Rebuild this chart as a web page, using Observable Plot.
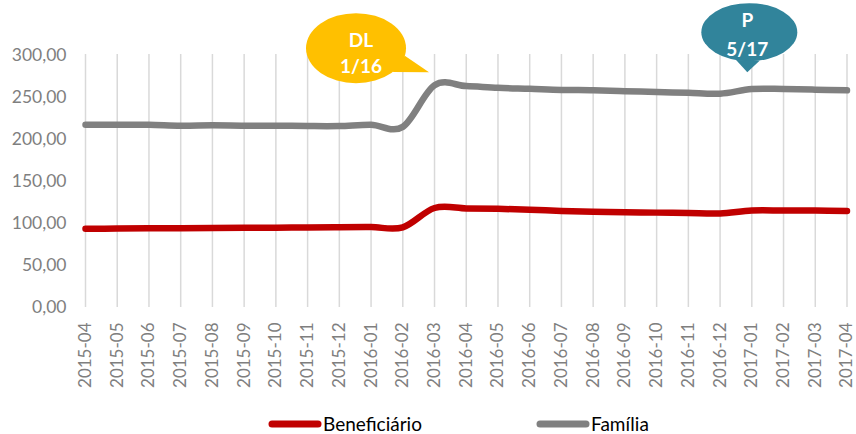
<!DOCTYPE html>
<html>
<head>
<meta charset="utf-8">
<script src="https://cdn.jsdelivr.net/npm/d3@7"></script>
<script src="https://cdn.jsdelivr.net/npm/@observablehq/plot@0.6"></script>
<style>
  html, body { margin: 0; padding: 0; background: #fff; overflow: hidden; }
  #wrap { position: relative; width: 856px; height: 434px; font-family: Lato, "Noto Sans", sans-serif; }
  #legend { position: absolute; left: 0; top: 400px; width: 856px; height: 34px; }
  .item { position: absolute; top: 15px; height: 18px; line-height: 18px; display: flex; align-items: center; font-size: 19px; color: #000; }
  .item svg { display: block; margin-right: 1px; }
</style>
</head>
<body>
<div id="wrap">
  <div id="chart"></div>
  <div id="legend"></div>
</div>
<script>
const months = ["2015-04","2015-05","2015-06","2015-07","2015-08","2015-09","2015-10","2015-11","2015-12",
  "2016-01","2016-02","2016-03","2016-04","2016-05","2016-06","2016-07","2016-08","2016-09","2016-10",
  "2016-11","2016-12","2017-01","2017-02","2017-03","2017-04"];
const beneficiario = [93.3, 93.5, 93.8, 94, 94.2, 94.4, 94.6, 94.8, 95, 95.3, 95, 118, 117.5, 117, 116, 114.5,
  113.5, 113, 112.5, 112, 111.5, 115, 115, 115, 114.5];
const familia = [217, 217, 217, 215.8, 216.3, 215.9, 215.9, 215.5, 215.5, 217, 214.5, 264, 263, 261, 259.8, 258.5,
  258, 257, 256, 255, 254, 259.5, 259.5, 258.8, 258];
const yTicks = [0, 50, 100, 150, 200, 250, 300];
const seriesNames = ["Beneficiário", "Família"];
const seriesColors = ["#c00000", "#808080"];
const callouts = [
  {month: "2016-03", value: 279, lines: ["DL", "1/16"], color: "#ffc000"},
  {month: "2017-01", value: 279, lines: ["P", "5/17"], color: "#31849b"}
];

const table = [];
months.forEach((m, i) => {
  table.push({month: m, value: beneficiario[i], series: seriesNames[0]});
  table.push({month: m, value: familia[i], series: seriesNames[1]});
});
const fmt = d => d3.format(".2f")(d).replace(".", ",");

const chart = Plot.plot({
  width: 856,
  height: 400,
  marginLeft: 85,
  marginRight: 9,
  marginTop: 54,
  marginBottom: 93,
  style: {fontFamily: "Lato, 'Noto Sans', sans-serif", background: "#fff"},
  x: {type: "point", domain: months, padding: 0, round: false, range: [85, 846.5]},
  y: {domain: [0, 300], range: [306.7, 54.5]},
  color: {domain: seriesNames, range: seriesColors},
  marks: [
    Plot.ruleX(months, {x: d => d, stroke: "#d9d9d9", strokeWidth: 1.5}),
    Plot.axisY({ticks: yTicks, tickSize: 0, tickPadding: 19, tickFormat: fmt, fontSize: 17.5, fill: "#7f7f7f", label: null}),
    Plot.axisX({tickSize: 0, tickPadding: 15, tickRotate: -90, fontSize: 17, fill: "#7f7f7f", label: null}),
    Plot.line(table, {x: "month", y: "value", z: "series", stroke: "series", strokeWidth: 6.5,
      curve: "cardinal", tension: 0, strokeLinecap: "round", strokeLinejoin: "round"})
  ]
});
document.getElementById("chart").appendChild(chart);

// callouts positioned with the chart's scales
const sx = chart.scale("x"), sy = chart.scale("y");
const svg = d3.select(chart);
const g = svg.append("g");
callouts.forEach((c, k) => {
  const tx = sx.apply(c.month) - (k === 0 ? 5 : 4);
  const ty = sy.apply(c.value);
  let cx, cy, rx, ry, a1, a2;
  if (k === 0) { cx = tx - 73; cy = ty - 24; rx = 50; ry = 35; a1 = 0.22; a2 = 0.75; }
  else { cx = tx + 2; cy = ty - 40; rx = 48; ry = 29; a1 = 1.35; a2 = 1.85; }
  const p1 = [cx + rx * Math.cos(a1), cy + ry * Math.sin(a1)];
  const p2 = [cx + rx * Math.cos(a2), cy + ry * Math.sin(a2)];
  g.append("ellipse").attr("cx", cx).attr("cy", cy).attr("rx", rx).attr("ry", ry).attr("fill", c.color);
  g.append("path").attr("d", `M${p1[0]},${p1[1]} L${tx},${ty} L${p2[0]},${p2[1]} Z`).attr("fill", c.color);
  const t = g.append("text").attr("text-anchor", "middle").attr("fill", "#fff")
    .attr("font-weight", "bold").attr("font-size", 19).attr("font-family", "Lato, sans-serif");
  t.append("tspan").attr("x", cx + (k === 0 ? 5 : -2)).attr("y", cy - 8 + (k === 0 ? 0 : -4)).attr("dy", "0.35em").text(c.lines[0]);
  t.append("tspan").attr("x", cx + (k === 0 ? 5 : -2)).attr("y", cy + 18 + (k === 0 ? 0 : -1)).attr("dy", "0.35em").text(c.lines[1]);
});

// legend
const legend = document.getElementById("legend");
const positions = [268, 536];
seriesNames.forEach((name, i) => {
  const div = document.createElement("div");
  div.className = "item";
  div.style.left = positions[i] + "px";
  div.innerHTML = `<svg width="54" height="10"><line x1="4" y1="5" x2="50" y2="5" stroke="${seriesColors[i]}" stroke-width="7" stroke-linecap="round"/></svg><span>${name}</span>`;
  legend.appendChild(div);
});
</script>
</body>
</html>
